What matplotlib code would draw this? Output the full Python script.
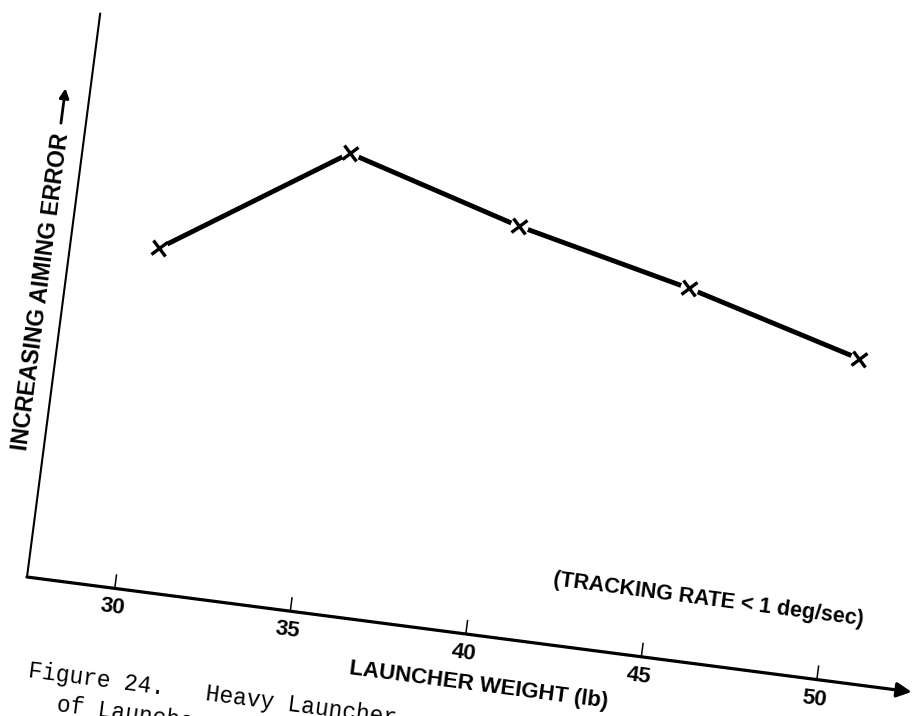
import matplotlib
matplotlib.use('Agg')
import matplotlib.pyplot as plt
from matplotlib.patches import FancyArrowPatch
from matplotlib.transforms import Affine2D

# launcher weight (lb) vs aiming error (arbitrary units, no scale on the axis)
weights = [30, 35, 40, 45, 50]
aiming_error = [6.04, 8.13, 7.24, 6.54, 5.70]
tick_values = [30, 35, 40, 45, 50]
tick_labels = ['30', '35', '40', '45', '50']

x_origin = 27.5
x_end = 52.7
y_top = 10.0
tilt = -7.4          # the scanned page is turned a little


def make_axes():
    """
    one axes over the whole page, plus a tilted transform on top of transData
    """
    fig = plt.figure(figsize=(9.13, 7.16), dpi=100)
    ax = fig.add_axes([0, 0, 1, 1])
    ax.axis('off')
    x0 = x_origin - 27 / 35.4
    y0 = -139 / 56.8
    ax.set_xlim(x0, x0 + 913 / 35.4)
    ax.set_ylim(y0, y0 + 716 / 56.8)
    cx, cy = ax.transData.transform((x_origin, 0))
    tr = ax.transData + Affine2D().rotate_deg_around(cx, cy, tilt)
    return fig, ax, tr


fig, ax, tr = make_axes()
bold = dict(family='Liberation Sans', weight='bold', color='black')

# axes lines
ax.plot([x_origin, x_origin], [0, y_top], color='black', lw=1.5,
        transform=tr, clip_on=False)
ax.add_patch(FancyArrowPatch((x_origin, 0), (x_end, 0), transform=tr,
                             arrowstyle='-|>', mutation_scale=22, lw=2.3,
                             color='black', shrinkA=0, shrinkB=0,
                             clip_on=False))
ax.vlines(tick_values, 0, 0.25, color='black', lw=1.1, transform=tr,
          clip_on=False)
for val, lab in zip(tick_values, tick_labels):
    ax.text(val, -0.34, lab, transform=tr, rotation=tilt,
            rotation_mode='anchor', ha='center', va='center',
            fontsize=16, **bold)

# the data line, broken a little round each cross
ax.plot(weights, aiming_error, color='black', lw=3.5, transform=tr,
        clip_on=False, solid_capstyle='round', zorder=2)
ax.plot(weights, aiming_error, ls='none', marker='o', ms=13,
        mfc='white', mec='none', transform=tr, clip_on=False, zorder=3)
ax.plot(weights, aiming_error, ls='none',
        marker=matplotlib.markers.MarkerStyle(
            'x', transform=Affine2D().rotate_deg(tilt)),
        ms=10, mew=2.4, color='black', transform=tr, clip_on=False,
        zorder=4)

# labels
ax.text(40.55, -0.86, 'LAUNCHER WEIGHT (lb)', transform=tr, rotation=tilt,
        rotation_mode='anchor', ha='center', va='center', fontsize=16,
        **bold)
ax.text(46.66, 1.14, '(TRACKING RATE < 1 deg/sec)', transform=tr,
        rotation=tilt, rotation_mode='anchor', ha='center', va='center',
        fontsize=15.5, **bold)
ax.text(26.85, 5.02, 'INCREASING AIMING ERROR', transform=tr,
        rotation=90 + tilt, rotation_mode='anchor', ha='center',
        va='center', fontsize=16.5, **bold)
ax.add_patch(FancyArrowPatch((26.8, 8.0), (26.8, 8.62), transform=tr,
                             arrowstyle='-|>', mutation_scale=14, lw=2,
                             color='black', shrinkA=0, shrinkB=0,
                             clip_on=False))

# caption, typed and cut off at the page edge
mono = dict(family='Liberation Mono', fontsize=16.5, color='black')
ax.text(27.89, -1.74, 'Figure 24.   Heavy Launcher', transform=tr,
        rotation=tilt, rotation_mode='anchor', ha='left', va='baseline',
        zorder=1, **mono)
ax.text(28.79, -2.27, 'of Launcher', transform=tr, rotation=tilt,
        rotation_mode='anchor', ha='left', va='baseline', zorder=1, **mono)

fig.savefig('out.png', dpi=100)
